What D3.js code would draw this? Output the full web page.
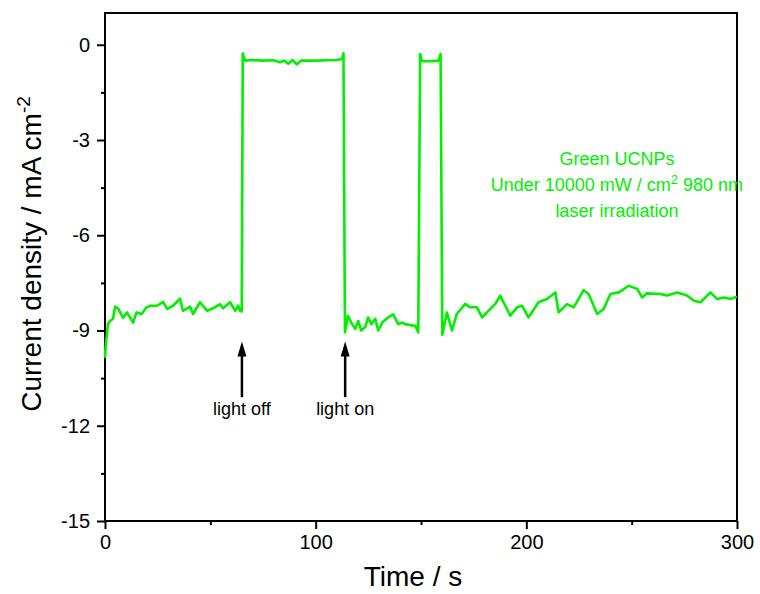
<!DOCTYPE html>
<meta charset="utf-8">
<title>Current density vs time</title>
<script src="https://d3js.org/d3.v7.min.js"></script>
<style>
  body { margin: 0; background: #fff; font-family: Arial, "Liberation Sans", sans-serif; }
  .tick text { font-size: 20px; font-family: Arial, "Liberation Sans", sans-serif; }
</style>
<div id="chart"></div>
<script>
// time (s) and current density (mA cm-2)
var time = [0, 0.3, 1.4, 2.4, 3.8, 4.8, 6.2, 8.6, 10.4, 13.3, 15, 17.4, 19.7, 21.4, 24.7, 27.6, 29.5, 32.3, 35.6, 37, 40.4, 41.8, 45.1, 48.5, 51.3, 54.6, 56, 59.4, 61.8, 63.2, 64.1, 64.9,
  65.4, 66.5, 70, 75, 80, 83, 85, 87, 89, 91, 93, 100, 105, 110, 112.5, 113.2,
  113.9, 115.3, 117.3, 118.8, 120.2, 121.6, 123.5, 124.9, 126.4, 128.3, 129.7, 131.6, 134.4, 136.8, 139.2, 141.1, 142.5, 144.9, 147.3, 148.7,
  149.6, 150.3, 152, 155, 158.3, 159.3,
  160.1, 162.3, 164.7, 167, 171, 173.4, 176.6, 179, 182, 185.3, 187.6, 190, 192.4, 195.6, 198, 201, 205.8, 209.8, 213.8, 215.3, 219.3, 222.5, 227.2, 229.6, 233.6, 236.7, 239.9, 243.9, 248.6, 252.6, 255, 257.3, 263.7, 266.8, 271.6, 276.3, 279.5, 282.7, 287.4, 290.6, 293.7, 296.9, 300];
var current = [-9.86, -9.5, -8.8, -8.7, -8.63, -8.25, -8.3, -8.6, -8.43, -8.75, -8.43, -8.48, -8.27, -8.22, -8.22, -8.1, -8.32, -8.22, -8.0, -8.38, -8.25, -8.48, -8.11, -8.38, -8.3, -8.17, -8.3, -8.11, -8.38, -8.22, -8.38, -8.4,
  -0.27, -0.5, -0.48, -0.5, -0.49, -0.55, -0.5, -0.6, -0.48, -0.62, -0.5, -0.5, -0.49, -0.48, -0.45, -0.27,
  -9.06, -8.54, -8.8, -8.95, -8.7, -9.0, -8.9, -8.59, -8.8, -8.63, -9.0, -8.75, -8.59, -8.49, -8.8, -8.75, -8.8, -8.83, -8.85, -9.06,
  -0.29, -0.5, -0.52, -0.52, -0.5, -0.29,
  -9.13, -8.43, -9.0, -8.48, -8.16, -8.27, -8.27, -8.59, -8.38, -8.16, -7.9, -8.22, -8.53, -8.27, -8.22, -8.59, -8.11, -8.01, -7.8, -8.43, -8.17, -8.27, -7.73, -7.85, -8.48, -8.32, -7.85, -7.8, -7.59, -7.69, -7.96, -7.83, -7.85, -7.9, -7.8, -7.9, -8.06, -8.11, -7.8, -8.01, -7.96, -8.01, -7.94];
var xTicks = [0, 100, 200, 300];
var yTicks = [0, -3, -6, -9, -12, -15];
var arrows = [{t: 65, label: "light off"}, {t: 114, label: "light on"}];
var noteLines = ["Green UCNPs", "Under 10000 mW / cm", "laser irradiation"];

var W = 760, H = 594;
var margin = {top: 13, right: 23, bottom: 73, left: 105};
var width = W - margin.left - margin.right,
    height = H - margin.top - margin.bottom;
var green = "#00f000";

var svg = d3.select("#chart").append("svg")
    .attr("width", W).attr("height", H);
var g = svg.append("g")
    .attr("transform", "translate(" + margin.left + "," + margin.top + ")");

var x = d3.scaleLinear().domain([0, 300]).range([0, width]);
var y = d3.scaleLinear().domain([-15, 1]).range([height, 0]);
var plain = function(d) { return String(d); }; // hyphen minus like the original

// minor ticks
g.append("g")
  .attr("transform", "translate(0," + height + ")")
  .call(d3.axisBottom(x).tickValues([50, 150, 250]).tickSize(4).tickFormat(""))
  .call(function(s) { s.select(".domain").remove(); s.selectAll("line").attr("stroke-width", 2); });
g.append("g")
  .call(d3.axisLeft(y).tickValues([-1.5, -4.5, -7.5, -10.5, -13.5]).tickSize(4).tickFormat(""))
  .call(function(s) { s.select(".domain").remove(); s.selectAll("line").attr("stroke-width", 2); });

// major ticks
g.append("g")
  .attr("transform", "translate(0," + height + ")")
  .call(d3.axisBottom(x).tickValues(xTicks).tickSize(8).tickPadding(6).tickFormat(plain))
  .call(function(s) { s.select(".domain").remove(); s.selectAll("line").attr("stroke-width", 2); });
g.append("g")
  .call(d3.axisLeft(y).tickValues(yTicks).tickSize(8).tickPadding(7).tickFormat(plain))
  .call(function(s) { s.select(".domain").remove(); s.selectAll("line").attr("stroke-width", 2); });

// frame
g.append("rect")
  .attr("width", width).attr("height", height)
  .attr("fill", "none").attr("stroke", "#000").attr("stroke-width", 2);

// data line
var line = d3.line()
  .x(function(d, i) { return x(time[i]); })
  .y(function(d) { return y(d); });
g.append("path")
  .datum(current)
  .attr("fill", "none")
  .attr("stroke", green)
  .attr("stroke-width", 2.6)
  .attr("stroke-linejoin", "round")
  .attr("d", line);

// arrows
arrows.forEach(function(a) {
  var ax = x(a.t), tip = y(-9.35);
  g.append("line")
    .attr("x1", ax).attr("x2", ax)
    .attr("y1", y(-11.1)).attr("y2", tip + 10)
    .attr("stroke", "#000").attr("stroke-width", 2.5);
  g.append("path")
    .attr("d", "M" + ax + "," + tip + " L" + (ax - 4.5) + "," + (tip + 15) + " L" + (ax + 4.5) + "," + (tip + 15) + " Z")
    .attr("fill", "#000");
  g.append("text")
    .attr("x", ax).attr("y", y(-11.65))
    .attr("text-anchor", "middle")
    .attr("font-size", "18px")
    .text(a.label);
});

// note text
var note = g.append("text")
  .attr("fill", green)
  .attr("font-size", "18px")
  .attr("text-anchor", "middle");
note.append("tspan").attr("x", x(243)).attr("y", y(-3.78)).text(noteLines[0]);
var l2 = note.append("tspan").attr("x", x(243)).attr("y", y(-4.6));
l2.append("tspan").text(noteLines[1]);
l2.append("tspan").attr("dy", -7).attr("font-size", "13px").text("2");
l2.append("tspan").attr("dy", 7).text(" 980 nm");
note.append("tspan").attr("x", x(243)).attr("y", y(-5.44)).text(noteLines[2]);

// axis titles
svg.append("text")
  .attr("x", margin.left + width / 2 - 8).attr("y", 586)
  .attr("text-anchor", "middle")
  .attr("font-size", "28px")
  .text("Time / s");

var yt = svg.append("text")
  .attr("transform", "translate(41," + 254 + ") rotate(-90)")
  .attr("text-anchor", "middle")
  .attr("font-size", "28px");
yt.append("tspan").text("Current density / mA cm");
yt.append("tspan").attr("dy", -11).attr("font-size", "19px").text("-2");
</script>
